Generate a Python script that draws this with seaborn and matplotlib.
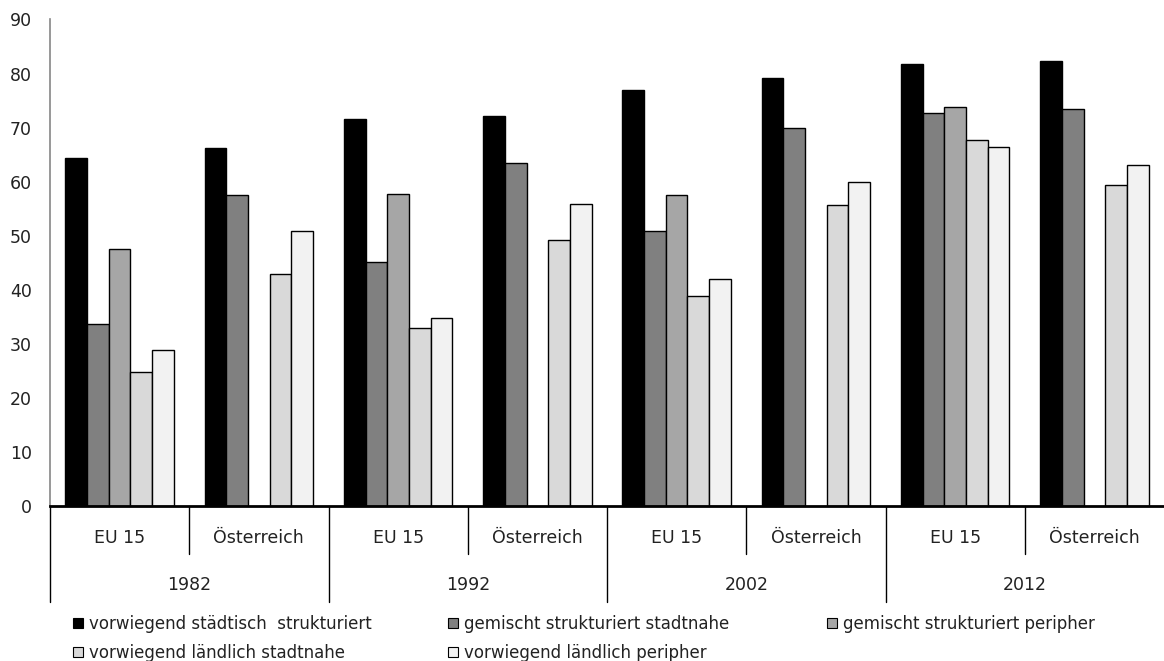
import numpy as np
import pandas as pd
import matplotlib
matplotlib.use("Agg")
import matplotlib.pyplot as plt
import seaborn as sns
from matplotlib.patches import Patch
import matplotlib.transforms as mtransforms

years = ["1982", "1992", "2002", "2012"]
regions = ["EU 15", "Österreich"]
series = ["vorwiegend städtisch  strukturiert", "gemischt strukturiert stadtnahe",
          "gemischt strukturiert peripher", "vorwiegend ländlich stadtnahe",
          "vorwiegend ländlich peripher"]
colors = ["#000000", "#808080", "#A6A6A6", "#D9D9D9", "#F2F2F2"]

# values per group: 1982 EU15, 1982 AT, 1992 EU15, 1992 AT, ...
staedtisch = [64.3, 66.2, 71.6, 72.1, 77.0, 79.1, 81.7, 82.4]
gem_stadtnahe = [33.7, 57.5, 45.1, 63.4, 50.8, 69.9, 72.7, 73.4]
gem_peripher = [47.5, np.nan, 57.8, np.nan, 57.5, np.nan, 73.9, np.nan]
laendl_stadtnahe = [24.8, 42.9, 33.0, 49.3, 38.9, 55.6, 67.8, 59.3]
laendl_peripher = [28.9, 50.8, 34.8, 55.9, 42.0, 59.9, 66.4, 63.1]

values = [staedtisch, gem_stadtnahe, gem_peripher, laendl_stadtnahe, laendl_peripher]
groups = [f"{y} {r}" for y in years for r in regions]

rows = []
for s, vals in zip(series, values):
    for g, v in zip(groups, vals):
        rows.append({"group": g, "series": s, "value": v})
df = pd.DataFrame(rows)

sns.set_style("white")
plt.rcParams["font.family"] = ["DejaVu Sans"]

W, H = 1164, 661
top_px, bot_px, left_px = 19.5, 506.0, 50.0
ax_h = bot_px - top_px

fig = plt.figure(figsize=(W/100, H/100), dpi=100)
ax = fig.add_axes([left_px/W, 1-bot_px/H, 1-left_px/W, ax_h/H])

sns.barplot(data=df, x="group", y="value", hue="series", order=groups,
            hue_order=series, palette=colors, width=0.78, edgecolor="black",
            linewidth=1.0, ax=ax, legend=False, saturation=1)

ax.set_ylim(0, 90)
ax.set_xlim(-0.5, 7.5)
ax.set_yticks(range(0, 91, 10))
ax.tick_params(axis="y", length=6, width=1, color="#868686", labelsize=12.5,
               pad=7, labelcolor="#222222")
ax.set_xticks([])
ax.set_xlabel("")
ax.set_ylabel("")
for sp in ["top", "right"]:
    ax.spines[sp].set_visible(False)
ax.spines["left"].set_color("#868686")
ax.spines["left"].set_linewidth(1.2)
ax.spines["bottom"].set_color("black")
ax.spines["bottom"].set_linewidth(2)

def ay(px):
    return -(px - bot_px) / ax_h

trans = mtransforms.blended_transform_factory(ax.transData, ax.transAxes)
for i in range(8):
    xb = i - 0.5
    yend = ay(602) if i % 2 == 0 else ay(554)
    ax.plot([xb, xb], [0, yend], color="black", lw=1, transform=trans, clip_on=False)
    ax.text(i, ay(538), regions[i % 2], transform=trans, ha="center",
            va="center", fontsize=12.5, color="#222222")
for j, y in enumerate(years):
    ax.text(2*j + 0.5, ay(585), y, transform=trans, ha="center",
            va="center", fontsize=12.5, color="#222222")

legend_pos = [(73, 624), (448, 624), (827, 624), (73, 653), (448, 653)]
for s, c, (px, py) in zip(series, colors, legend_pos):
    h = Patch(facecolor=c, edgecolor="black", linewidth=0.8)
    fig.legend(handles=[h], labels=[s], loc="center left",
               bbox_to_anchor=(px/W, 1-py/H), frameon=False,
               fontsize=12, handlelength=0.6, handleheight=0.6,
               handletextpad=0.35, borderpad=0, borderaxespad=0,
               labelcolor="#222222")

fig.savefig("out.png", dpi=100)
